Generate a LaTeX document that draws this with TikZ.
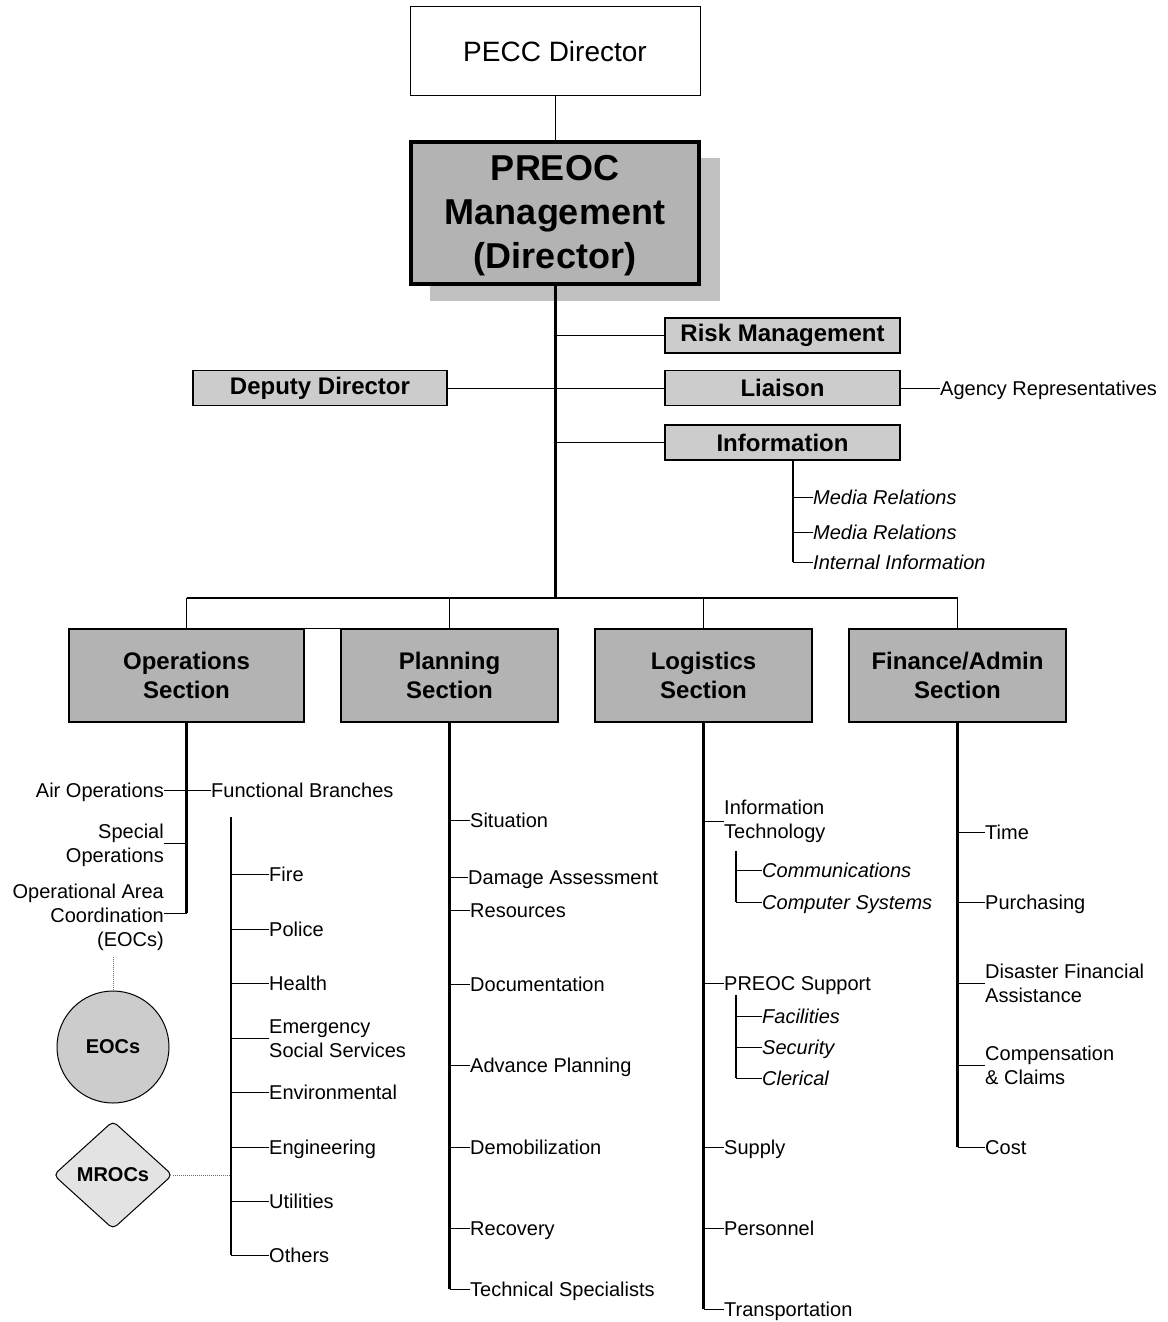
\documentclass[tikz,border=0pt]{standalone}
\usepackage{fontspec}
\setmainfont{Liberation Sans}
\usetikzlibrary{shapes.geometric}
\definecolor{boxgray}{HTML}{B3B3B3}
\definecolor{lightbox}{HTML}{CCCCCC}
\definecolor{shadowgray}{HTML}{C0C0C0}
\definecolor{palegray}{HTML}{E3E3E3}
\definecolor{dotgray}{HTML}{6E6E6E}
\begin{document}
\begin{tikzpicture}[x=1pt,y=-1pt,
  lab/.style={font=\fontsize{20}{23}\selectfont, inner sep=0pt, text height=14.5pt, text depth=0pt, anchor=west},
  ilab/.style={lab, font=\fontsize{20}{23}\selectfont\itshape},
  mlab/.style={font=\fontsize{20}{24}\selectfont, inner sep=0pt, align=left, anchor=west},
  rlab/.style={font=\fontsize{20}{24}\selectfont, inner sep=0pt, align=right, anchor=east},
  tick/.style={line width=1pt},
  trunk/.style={line width=2.2pt},
  subline/.style={line width=1.5pt},
  smallbox/.style={draw, line width=1.3pt, fill=lightbox, minimum width=235, minimum height=35, inner sep=0pt, font=\bfseries\fontsize{24}{28}\selectfont},
  secbox/.style={draw, line width=1.3pt, fill=boxgray, minimum width=217, minimum height=93, inner sep=0pt, align=center, font=\bfseries\fontsize{24}{29}\selectfont},
  dotline/.style={densely dotted, dotgray, line width=1pt}
]
\useasboundingbox (0,0) rectangle (1167,1322);

% top
\node[draw, line width=1pt, fill=white, minimum width=290, minimum height=88, font=\fontsize{28}{32}\selectfont] (pecc) at (555,51) {PECC Director};
\fill[shadowgray] (430,158) rectangle (720,301);
\node[draw, line width=4pt, fill=boxgray, minimum width=288, minimum height=142, inner sep=0pt, align=center, font=\bfseries\fontsize{36}{44}\selectfont] (preoc) at (555,213) {\rule{0pt}{31pt}PREOC\\Management\\(Director)};
\draw[line width=1pt] (pecc.south) -- (preoc.north);
\coordinate (bus) at (555,598);
\draw[line width=3pt] (preoc.south) -- (bus);

% staff
\node[smallbox] (risk) at (782.5,335.5) {Risk Management};
\node[smallbox] (liaison) at (782.5,388) {Liaison};
\node[smallbox] (info) at (782.5,442.5) {Information};
\node[smallbox, minimum width=254] (deputy) at (320,388) {Deputy Director};
\draw[tick] (risk.west) -- (risk.west -| bus);
\draw[tick] (liaison.west) -- (liaison.west -| bus);
\draw[tick] (info.west) -- (info.west -| bus);
\draw[tick] (deputy.east) -- (deputy.east -| bus);
\node[lab] (agency) at (940,388) {Agency Representatives};
\draw[tick] (liaison.east) -- (agency.west);

% information subtree
\coordinate (infoline) at (793,562);
\draw[subline] (info.south -| infoline) -- (infoline);
\node[ilab] (mr1) at (813,497) {Media Relations};
\node[ilab] (mr2) at (813,532) {Media Relations};
\node[ilab] (ii) at (813,562) {Internal Information};
\draw[tick] (mr1.west -| infoline) -- (mr1.west);
\draw[tick] (mr2.west -| infoline) -- (mr2.west);
\draw[tick] (ii.west -| infoline) -- (ii.west);

% sections
\node[secbox, minimum width=235] (ops) at (186.5,675.5) {Operations\\Section};
\node[secbox] (plan) at (449.5,675.5) {Planning\\Section};
\node[secbox] (log) at (703.5,675.5) {Logistics\\Section};
\node[secbox] (fin) at (957.5,675.5) {Finance/Admin\\Section};
\draw[line width=1.5pt] (ops.north |- bus) -- (fin.north |- bus);
\draw[line width=1.3pt] (ops.north |- bus) -- (ops.north);
\draw[line width=1.3pt] (plan.north |- bus) -- (plan.north);
\draw[line width=1.3pt] (log.north |- bus) -- (log.north);
\draw[line width=1.3pt] (fin.north |- bus) -- (fin.north);
\draw[tick] (ops.north east) -- (plan.north west);

% operations subtree
\coordinate (opsend) at (186.5,913);
\coordinate (specjoin) at (186.5,843);
\draw[trunk] (ops.south) -- (opsend);
\node[rlab, text height=14.5pt, text depth=0pt] (air) at (164,790) {Air Operations};
\node[lab] (fb) at (211,790) {Functional Branches};
\draw[tick] (air.east) -- (fb.west);
\node[rlab] (spec) at (164,845) {Special\\Operations};
\draw[tick] (specjoin -| spec.east) -- (specjoin);
\node[rlab] (oac) at (164,917) {Operational Area\\Coordination\\(EOCs)};
\draw[tick] (opsend -| oac.east) -- (opsend);

\coordinate (eocsdot) at (113,957);
\node[ellipse, draw, line width=1pt, fill=lightbox, minimum width=112, minimum height=112, inner sep=0pt, font=\bfseries\fontsize{20}{24}\selectfont] (eocs) at (113,1047) {EOCs};
\draw[dotline] (eocsdot) -- (eocs.north);
\node[diamond, draw, line width=1pt, fill=palegray, minimum width=119, minimum height=108, inner sep=0pt, rounded corners=5pt, font=\bfseries\fontsize{20}{24}\selectfont] (mrocs) at (113,1175) {MROCs};

\coordinate (fbtop) at (231,817);
\coordinate (fbbot) at (231,1255);
\draw[subline] (fbtop) -- (fbbot);
\draw[dotline] (mrocs.east) -- (mrocs.east -| fbtop);
\node[lab] (fire) at (269,874) {Fire};
\node[lab] (police) at (269,929) {Police};
\node[lab] (health) at (269,983) {Health};
\node[mlab] (ess) at (269,1038.5) {Emergency\\Social Services};
\node[lab] (env) at (269,1092) {Environmental};
\node[lab] (eng) at (269,1147) {Engineering};
\node[lab] (util) at (269,1201) {Utilities};
\node[lab] (others) at (269,1255) {Others};
\foreach \n in {fire,police,health,ess,env,eng,util,others}
  \draw[tick] (\n.west -| fbtop) -- (\n.west);

% planning subtree
\coordinate (planend) at (449.5,1289);
\draw[trunk] (plan.south) -- (planend);
\node[lab] (sit) at (470,820) {Situation};
\node[lab] (dam) at (468,877) {Damage Assessment};
\node[lab] (res) at (470,910) {Resources};
\node[lab] (doc) at (470,984) {Documentation};
\node[lab] (adv) at (470,1065) {Advance Planning};
\node[lab] (demob) at (470,1147) {Demobilization};
\node[lab] (rec) at (470,1228) {Recovery};
\node[lab] (tech) at (470,1289) {Technical Specialists};
\foreach \n in {sit,dam,res,doc,adv,demob,rec,tech}
  \draw[tick] (\n.west -| planend) -- (\n.west);

% logistics subtree
\coordinate (logend) at (703.5,1309);
\draw[trunk] (log.south) -- (logend);
\node[mlab] (it) at (724,821) {Information\\Technology};
\node[lab] (sup) at (724,983) {PREOC Support};
\node[lab] (supply) at (724,1147) {Supply};
\node[lab] (pers) at (724,1228) {Personnel};
\node[lab] (trans) at (724,1309) {Transportation};
\foreach \n in {it,sup,supply,pers,trans}
  \draw[tick] (\n.west -| logend) -- (\n.west);
\coordinate (ittop) at (736,851);
\coordinate (itbot) at (736,902);
\draw[subline] (ittop) -- (itbot);
\node[ilab] (comm) at (762,870) {Communications};
\node[ilab] (comp) at (762,902) {Computer Systems};
\draw[tick] (comm.west -| ittop) -- (comm.west);
\draw[tick] (comp.west -| ittop) -- (comp.west);
\coordinate (suptop) at (736,995);
\coordinate (supbot) at (736,1078);
\draw[subline] (suptop) -- (supbot);
\node[ilab] (fac) at (762,1016) {Facilities};
\node[ilab] (sec) at (762,1047) {Security};
\node[ilab] (cler) at (762,1078) {Clerical};
\foreach \n in {fac,sec,cler}
  \draw[tick] (\n.west -| suptop) -- (\n.west);

% finance subtree
\coordinate (finend) at (957.5,1147);
\draw[trunk] (fin.south) -- (finend);
\node[lab] (time) at (985,832) {Time};
\node[lab] (purch) at (985,902) {Purchasing};
\node[mlab] (dfa) at (985,983.5) {Disaster Financial\\Assistance};
\node[mlab] (comp2) at (985,1065.5) {Compensation\\\& Claims};
\node[lab] (cost) at (985,1147) {Cost};
\foreach \n in {time,purch,dfa,comp2,cost}
  \draw[tick] (\n.west -| finend) -- (\n.west);
\end{tikzpicture}
\end{document}
